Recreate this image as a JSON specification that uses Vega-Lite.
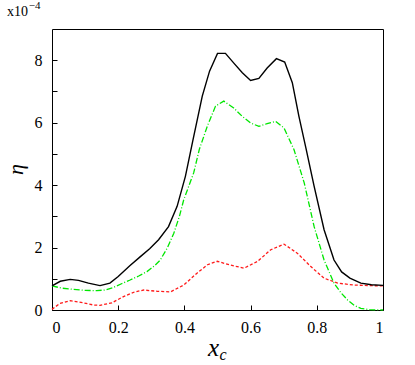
{
  "$schema": "https://vega.github.io/schema/vega-lite/v6.json",
  "width": 331,
  "height": 281,
  "autosize": {"type": "none"},
  "padding": {"left": 52, "top": 29, "right": 32, "bottom": 55},
  "background": "white",
  "config": {
    "view": {"stroke": "black", "strokeWidth": 1},
    "axis": {"grid": false, "domain": false, "tickColor": "black", "tickWidth": 1}
  },
  "data": {"values": [
      {"x": 0.0, "y": 0.77, "s": "total"},
      {"x": 0.025, "y": 0.92, "s": "total"},
      {"x": 0.055, "y": 0.98, "s": "total"},
      {"x": 0.08, "y": 0.95, "s": "total"},
      {"x": 0.11, "y": 0.86, "s": "total"},
      {"x": 0.145, "y": 0.78, "s": "total"},
      {"x": 0.175, "y": 0.86, "s": "total"},
      {"x": 0.2, "y": 1.07, "s": "total"},
      {"x": 0.235, "y": 1.42, "s": "total"},
      {"x": 0.267, "y": 1.71, "s": "total"},
      {"x": 0.295, "y": 1.96, "s": "total"},
      {"x": 0.322, "y": 2.25, "s": "total"},
      {"x": 0.352, "y": 2.67, "s": "total"},
      {"x": 0.378, "y": 3.32, "s": "total"},
      {"x": 0.403, "y": 4.28, "s": "total"},
      {"x": 0.425, "y": 5.4, "s": "total"},
      {"x": 0.454, "y": 6.85, "s": "total"},
      {"x": 0.476, "y": 7.65, "s": "total"},
      {"x": 0.5, "y": 8.22, "s": "total"},
      {"x": 0.524, "y": 8.22, "s": "total"},
      {"x": 0.55, "y": 7.9, "s": "total"},
      {"x": 0.575, "y": 7.6, "s": "total"},
      {"x": 0.6, "y": 7.35, "s": "total"},
      {"x": 0.625, "y": 7.42, "s": "total"},
      {"x": 0.65, "y": 7.75, "s": "total"},
      {"x": 0.678, "y": 8.05, "s": "total"},
      {"x": 0.703, "y": 7.94, "s": "total"},
      {"x": 0.726, "y": 7.28, "s": "total"},
      {"x": 0.746, "y": 6.2, "s": "total"},
      {"x": 0.767, "y": 5.19, "s": "total"},
      {"x": 0.792, "y": 3.96, "s": "total"},
      {"x": 0.822, "y": 2.57, "s": "total"},
      {"x": 0.852, "y": 1.6, "s": "total"},
      {"x": 0.875, "y": 1.22, "s": "total"},
      {"x": 0.9, "y": 1.02, "s": "total"},
      {"x": 0.933, "y": 0.86, "s": "total"},
      {"x": 0.965, "y": 0.81, "s": "total"},
      {"x": 1.0, "y": 0.79, "s": "total"},
      {"x": 0.0, "y": 0.77, "s": "green"},
      {"x": 0.03, "y": 0.7, "s": "green"},
      {"x": 0.065, "y": 0.66, "s": "green"},
      {"x": 0.1, "y": 0.63, "s": "green"},
      {"x": 0.135, "y": 0.62, "s": "green"},
      {"x": 0.16, "y": 0.64, "s": "green"},
      {"x": 0.185, "y": 0.72, "s": "green"},
      {"x": 0.21, "y": 0.84, "s": "green"},
      {"x": 0.236, "y": 0.96, "s": "green"},
      {"x": 0.262, "y": 1.09, "s": "green"},
      {"x": 0.287, "y": 1.23, "s": "green"},
      {"x": 0.31, "y": 1.42, "s": "green"},
      {"x": 0.327, "y": 1.6, "s": "green"},
      {"x": 0.348, "y": 1.98, "s": "green"},
      {"x": 0.368, "y": 2.46, "s": "green"},
      {"x": 0.385, "y": 3.0, "s": "green"},
      {"x": 0.398, "y": 3.53, "s": "green"},
      {"x": 0.428, "y": 4.39, "s": "green"},
      {"x": 0.445, "y": 5.14, "s": "green"},
      {"x": 0.469, "y": 5.88, "s": "green"},
      {"x": 0.494, "y": 6.53, "s": "green"},
      {"x": 0.519, "y": 6.69, "s": "green"},
      {"x": 0.549, "y": 6.47, "s": "green"},
      {"x": 0.575, "y": 6.2, "s": "green"},
      {"x": 0.6, "y": 5.99, "s": "green"},
      {"x": 0.625, "y": 5.88, "s": "green"},
      {"x": 0.65, "y": 5.97, "s": "green"},
      {"x": 0.676, "y": 6.04, "s": "green"},
      {"x": 0.701, "y": 5.83, "s": "green"},
      {"x": 0.731, "y": 5.14, "s": "green"},
      {"x": 0.762, "y": 4.07, "s": "green"},
      {"x": 0.792, "y": 2.67, "s": "green"},
      {"x": 0.822, "y": 1.6, "s": "green"},
      {"x": 0.852, "y": 0.86, "s": "green"},
      {"x": 0.873, "y": 0.55, "s": "green"},
      {"x": 0.893, "y": 0.32, "s": "green"},
      {"x": 0.913, "y": 0.15, "s": "green"},
      {"x": 0.933, "y": 0.05, "s": "green"},
      {"x": 0.96, "y": 0.01, "s": "green"},
      {"x": 1.0, "y": 0.0, "s": "green"},
      {"x": 0.0, "y": 0.02, "s": "red"},
      {"x": 0.024, "y": 0.21, "s": "red"},
      {"x": 0.055, "y": 0.3, "s": "red"},
      {"x": 0.095, "y": 0.23, "s": "red"},
      {"x": 0.125, "y": 0.16, "s": "red"},
      {"x": 0.145, "y": 0.15, "s": "red"},
      {"x": 0.181, "y": 0.23, "s": "red"},
      {"x": 0.216, "y": 0.43, "s": "red"},
      {"x": 0.25, "y": 0.58, "s": "red"},
      {"x": 0.277, "y": 0.64, "s": "red"},
      {"x": 0.317, "y": 0.6, "s": "red"},
      {"x": 0.358, "y": 0.58, "s": "red"},
      {"x": 0.398, "y": 0.8, "s": "red"},
      {"x": 0.438, "y": 1.18, "s": "red"},
      {"x": 0.47, "y": 1.45, "s": "red"},
      {"x": 0.499, "y": 1.56, "s": "red"},
      {"x": 0.539, "y": 1.44, "s": "red"},
      {"x": 0.58, "y": 1.34, "s": "red"},
      {"x": 0.62, "y": 1.55, "s": "red"},
      {"x": 0.661, "y": 1.93, "s": "red"},
      {"x": 0.701, "y": 2.11, "s": "red"},
      {"x": 0.741, "y": 1.82, "s": "red"},
      {"x": 0.782, "y": 1.39, "s": "red"},
      {"x": 0.822, "y": 1.02, "s": "red"},
      {"x": 0.863, "y": 0.86, "s": "red"},
      {"x": 0.913, "y": 0.8, "s": "red"},
      {"x": 0.96, "y": 0.78, "s": "red"},
      {"x": 1.0, "y": 0.77, "s": "red"},
      {"x": -0.136, "y": 9.41, "s": "lab1", "t": "x10"},
      {"x": -0.07, "y": 9.65, "s": "lab2", "t": "−4"},
      {"x": 0.506, "y": -1.6, "s": "lab3", "t": "c"}
  ]},
  "encoding": {
    "x": {"field": "x", "type": "quantitative", "scale": {"domain": [0, 1], "nice": false},
      "axis": {"orient": "bottom", "values": [0, 0.2, 0.4, 0.6, 0.8, 1], "format": "~g", "offset": -5, "tickSize": 5, "labelPadding": 9,
        "labelFont": "Liberation Serif", "labelFontSize": 16, "labelColor": "black",
        "title": "x", "titleFont": "Liberation Serif", "titleFontSize": 25, "titleFontStyle": "italic", "titleFontWeight": "normal", "titleColor": "black",
        "titleX": 161, "titleY": 50, "titleBaseline": "alphabetic", "titleAlign": "center"}},
    "y": {"field": "y", "type": "quantitative", "scale": {"domain": [0, 9], "nice": false},
      "axis": {"orient": "left", "values": [0, 1, 2, 3, 4, 5, 6, 7, 8], "offset": -5, "tickSize": 5, "labelPadding": 10,
        "labelFont": "Liberation Serif", "labelFontSize": 16, "labelColor": "black",
        "labelExpr": "datum.value % 2 == 0 ? datum.label : ''",
        "title": "η", "titleFont": "Liberation Serif", "titleFontSize": 22, "titleFontStyle": "italic", "titleFontWeight": "normal", "titleColor": "black",
        "titleX": -42, "titleY": 140, "titleAlign": "center", "titleBaseline": "middle"}}
  },
  "layer": [
    {
      "transform": [{"filter": "datum.s === 'red'"}],
      "mark": {"type": "line", "color": "#ff1a1a", "strokeWidth": 1.3, "strokeDash": [3, 2]}
    },
    {
      "transform": [{"filter": "datum.s === 'green'"}],
      "mark": {"type": "line", "color": "#00e600", "strokeWidth": 1.3, "strokeDash": [6, 2, 1, 2]}
    },
    {
      "transform": [{"filter": "datum.s === 'total'"}],
      "mark": {"type": "line", "color": "black", "strokeWidth": 1.4}
    },
    {
      "transform": [{"filter": "datum.s === 'lab1'"}],
      "mark": {"type": "text", "baseline": "alphabetic", "font": "Liberation Serif", "fontSize": 14, "color": "black", "align": "left"},
      "encoding": {"text": {"field": "t"}}
    },
    {
      "transform": [{"filter": "datum.s === 'lab2'"}],
      "mark": {"type": "text", "baseline": "alphabetic", "font": "Liberation Serif", "fontSize": 11, "color": "black", "align": "left"},
      "encoding": {"text": {"field": "t"}}
    },
    {
      "transform": [{"filter": "datum.s === 'lab3'"}],
      "mark": {"type": "text", "baseline": "alphabetic", "font": "Liberation Serif", "fontSize": 16, "fontStyle": "italic", "color": "black", "align": "left"},
      "encoding": {"text": {"field": "t"}}
    }
  ]
}
